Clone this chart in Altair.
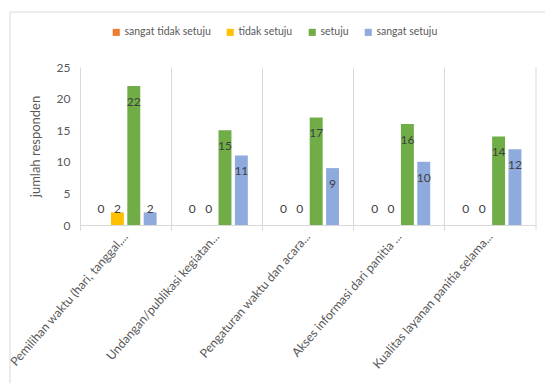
import altair as alt
import pandas as pd

categories = [
    "Pemilihan waktu (hari, tanggal,...",
    "Undangan/publikasi kegiatan...",
    "Pengaturan waktu dan acara...",
    "Akses informasi dari panitia ...",
    "Kualitas layanan panitia selama...",
]
series = ["sangat tidak setuju", "tidak setuju", "setuju", "sangat setuju"]
sangat_tidak_setuju = [0, 0, 0, 0, 0]
tidak_setuju = [2, 0, 0, 0, 0]
setuju = [22, 15, 17, 16, 14]
sangat_setuju = [2, 11, 9, 10, 12]
colors = ["#ED7D31", "#FFC000", "#70AD47", "#8FAADC"]
y_ticks = [0, 5, 10, 15, 20, 25]

rows = []
for s, vals in zip(series, [sangat_tidak_setuju, tidak_setuju, setuju, sangat_setuju]):
    for c, v in zip(categories, vals):
        rows.append({"kategori": c, "seri": s, "nilai": v})
df = pd.DataFrame(rows)

W, H = 456, 158
FONT = "Lato"
GRAY = "#595959"
LINE = "#d9d9d9"

x_enc = alt.X(
    "kategori:N",
    sort=categories,
    title=None,
    scale=alt.Scale(paddingInner=0, paddingOuter=0),
    axis=alt.Axis(
        bandPosition=0,
        grid=True,
        gridColor=LINE,
        domainColor=LINE,
        tickColor=LINE,
        tickSize=5,
        labelAngle=-49,
        labelAlign="right",
        labelBaseline="middle",
        labelPadding=4,
        labelFont=FONT,
        labelFontSize=12.3,
        labelColor=GRAY,
        labelLimit=300,
        labelOverlap=False,
    ),
)
xoff_enc = alt.XOffset(
    "seri:N", sort=series, scale=alt.Scale(paddingInner=0.21, paddingOuter=0.89)
)
y_scale = alt.Scale(domain=[0, 25], nice=False)
y_axis = alt.Axis(
    values=y_ticks,
    labelOverlap=False,
    domain=False,
    ticks=False,
    grid=False,
    labelPadding=10,
    labelFont=FONT,
    labelFontSize=12,
    labelColor=GRAY,
    titleFont=FONT,
    titleFontSize=13,
    titleFontWeight="normal",
    titleColor=GRAY,
    titlePadding=14,
)

bars = alt.Chart(df).mark_bar().encode(
    x=x_enc,
    xOffset=xoff_enc,
    y=alt.Y("nilai:Q", scale=y_scale, title="jumlah responden", axis=y_axis),
    color=alt.Color(
        "seri:N",
        sort=series,
        scale=alt.Scale(domain=series, range=colors),
        legend=alt.Legend(
            title=None,
            orient="none",
            direction="horizontal",
            legendX=31,
            legendY=-40,
            symbolType="square",
            symbolSize=50,
            symbolStrokeWidth=0,
            labelFont=FONT,
            labelFontSize=10.5,
            labelColor=GRAY,
            labelOffset=3,
            columnPadding=14,
        ),
    ),
)

labels = (
    alt.Chart(df)
    .transform_calculate(pos="max(datum.nilai - 2.5, 2.5)")
    .mark_text(baseline="middle", align="center", font=FONT, fontSize=12, color="#404040")
    .encode(
        x=x_enc,
        xOffset=xoff_enc,
        y=alt.Y("pos:Q", scale=y_scale, title="jumlah responden", axis=y_axis),
        text="nilai:Q",
    )
)

right_edge = (
    alt.Chart(pd.DataFrame({"k": [0]}))
    .mark_rule(color=LINE, strokeWidth=1)
    .encode(x=alt.value(W), y=alt.value(0), y2=alt.value(H + 5))
)

border = (
    alt.Chart(pd.DataFrame({"k": [0]}))
    .mark_rect(fillOpacity=0, stroke=LINE, strokeWidth=1)
    .encode(
        x=alt.value(-70), x2=alt.value(W + 40), y=alt.value(-55), y2=alt.value(H + 200)
    )
)

chart = (
    alt.layer(border, bars, labels, right_edge)
    .properties(
        width=W,
        height=H,
        autosize=alt.AutoSizeParams(type="none"),
        padding={"left": 80, "top": 67, "right": 545 - 80 - W, "bottom": 383 - 67 - H},
    )
    .configure_view(stroke=None)
)

chart.save("out.html", embed_options={"renderer": "svg", "actions": False})
